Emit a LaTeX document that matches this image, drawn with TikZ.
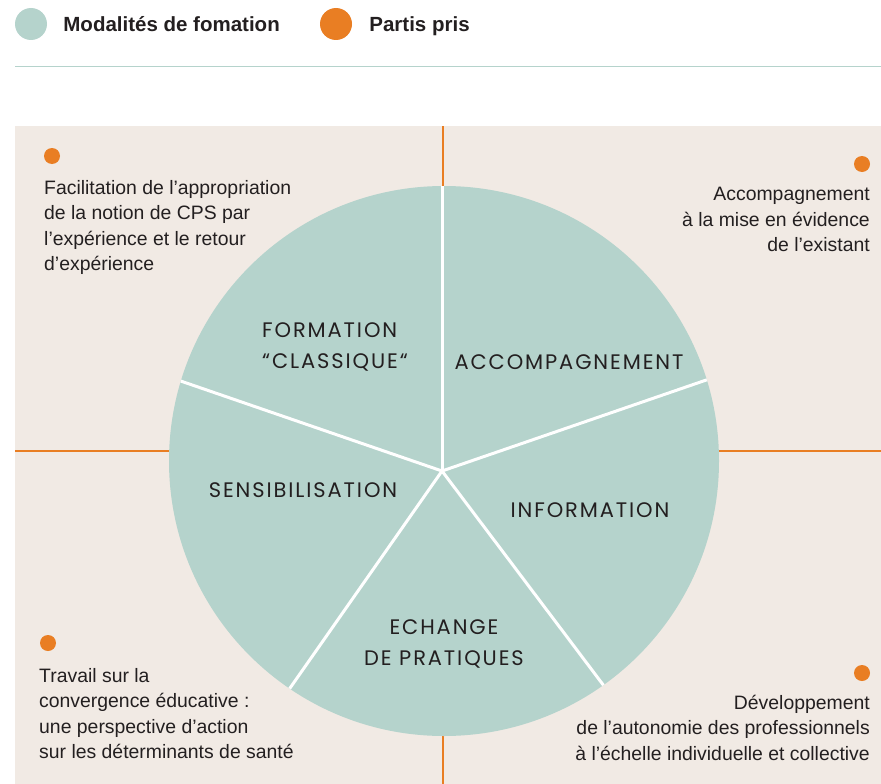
\documentclass[tikz,border=0pt]{standalone}
\usepackage{fontspec}
\setmainfont{Liberation Sans}
\newfontfamily\piefont{Poppins}[LetterSpace=9]
\usepackage{tikz}
\usetikzlibrary{positioning}
\definecolor{sage}{HTML}{B5D3CC}
\definecolor{sand}{HTML}{F1EAE4}
\definecolor{ember}{HTML}{E97E23}
\definecolor{ink}{HTML}{231F20}
\tikzset{pdot/.style={circle, fill=ember, inner sep=0pt, minimum size=16pt}}
\tikzset{kdot/.style={circle, inner sep=0pt, minimum size=32pt}}
\tikzset{key/.style={font=\fontsize{20.5}{24}\selectfont\bfseries, text=ink, inner sep=0pt, text height=14.8pt, text depth=0pt}}
\tikzset{note/.style={font=\fontsize{19.4}{25.5}\selectfont, text=ink, inner sep=0pt}}
\tikzset{part/.style={font=\piefont\fontsize{21}{31}\selectfont, text=ink, inner sep=0pt}}
\tikzset{spoke/.style={draw=white, line width=3pt}}
\tikzset{axis/.style={draw=ember, line width=2.5pt}}

\begin{document}
\begin{tikzpicture}[x=1pt, y=-1pt]
\useasboundingbox (0,0) rectangle (881,784);
% legende
\node[kdot, fill=sage] (kmod) at (31,24) {};
\node[key, right=16pt of kmod] (tmod) {Modalités de fomation};
\node[kdot, fill=ember] (kpp) at (336,24) {};
\node[key, right=17pt of kpp] (tpp) {Partis pris};
\draw[sage, line width=1pt] (15,67) -- (881,67);
% fond et axes
\fill[sand] (15,126) rectangle (881,784);
\draw[axis] (443,126) -- (443,784);
\draw[axis] (15,451) -- (881,451);
% disque
\fill[sage] (444,461) circle[radius=275pt];
\coordinate (ctr) at (442,471);
\begin{scope}
\clip (444,461) circle[radius=275pt];
\foreach \a in {90,19,-53,-125,161}
  \draw[spoke] (ctr) -- ++(\a:400pt);
\end{scope}
\node[part, align=left, anchor=west] (form) at (262,347) {FORMATION\\“CLASSIQUE“};
\node[part] (accomp) at (569,362) {ACCOMPAGNEMENT};
\node[part] (sensib) at (303,490) {SENSIBILISATION};
\node[part] (info) at (590,510) {INFORMATION};
\node[part, align=center] (echange) at (444,644) {ECHANGE\\DE PRATIQUES};
% partis pris
\node[pdot] (d1) at (52,156) {};
\node[note, align=left, anchor=north west] (n1) at (44,180) {Facilitation de l’appropriation\\de la notion de CPS par\\l’expérience et le retour\\d’expérience};
\node[pdot] (d2) at (862,164) {};
\node[note, align=right, anchor=north east] (n2) at (870,187) {Accompagnement\\à la mise en évidence\\de l’existant};
\node[pdot] (d3) at (48,643) {};
\node[note, align=left, anchor=north west] (n3) at (39,668) {Travail sur la\\convergence éducative :\\une perspective d’action\\sur les déterminants de santé};
\node[pdot] (d4) at (862,673) {};
\node[note, align=right, anchor=north east] (n4) at (870,695) {Développement\\de l’autonomie des professionnels\\à l’échelle individuelle et collective};
\end{tikzpicture}
\end{document}
